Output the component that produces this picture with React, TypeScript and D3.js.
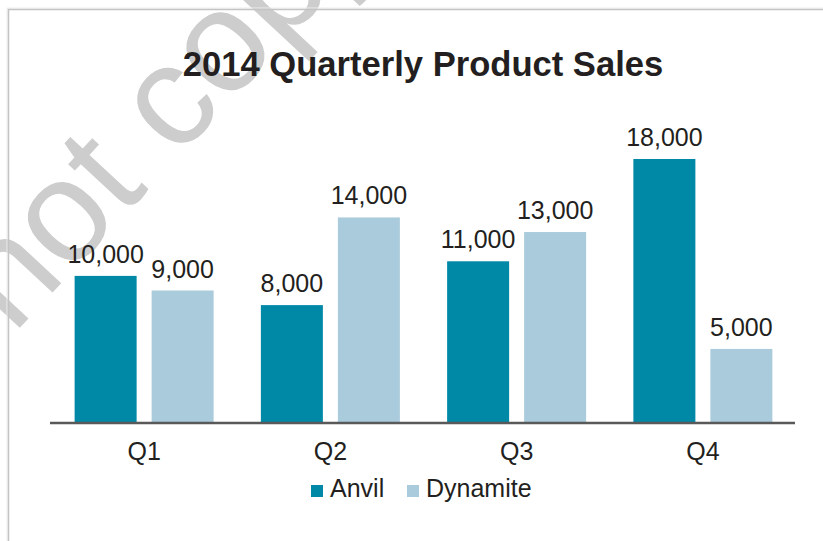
import React from "react";
import * as d3 from "d3";

const quarters = ["Q1", "Q2", "Q3", "Q4"];
const seriesNames = ["Anvil", "Dynamite"];
const anvil = [10000, 8000, 11000, 18000];
const dynamite = [9000, 14000, 13000, 5000];
const colors = ["#0089a7", "#aacbdb"];
const title = "2014 Quarterly Product Sales";
const watermark = "not copy";

const W = 823;
const H = 541;
const FONT = "'Liberation Sans', Arial, Helvetica, sans-serif";
const TEXT = "#231f20";

export default function App() {
  const seriesValues = [anvil, dynamite];
  const x0 = d3.scaleBand<string>().domain(quarters).range([51, 796]).paddingInner(0).paddingOuter(0);
  const step = x0.bandwidth();
  const groupW = 139;
  const x1 = d3
    .scaleBand<string>()
    .domain(seriesNames)
    .range([(step - groupW) / 2, (step + groupW) / 2])
    .paddingInner(15 / 77)
    .paddingOuter(0);
  const y = d3.scaleLinear().domain([0, 18000]).range([422, 159]);
  const fmt = d3.format(",");
  const baseY = y(0);

  return (
    <svg
      width={W}
      height={H}
      viewBox={`0 0 ${W} ${H}`}
      style={{ position: "absolute", left: 0, top: 0, display: "block", background: "#fff" }}
    >
      <rect x={0} y={0} width={W} height={H} fill="#fff" />
      {/* watermark */}
      <text
        transform="translate(13,335) rotate(-47)"
        fontFamily={FONT}
        fontSize={144}
        fill="#cdcdcd"
      >
        {watermark}
      </text>
      {/* frame */}
      <line x1={7} y1={8} x2={W} y2={8} stroke="#ececec" strokeWidth={1} />
      <line x1={7} y1={8} x2={7} y2={H} stroke="#ececec" strokeWidth={1} />
      <line x1={8} y1={9.5} x2={W} y2={9.5} stroke="#c4c4c4" strokeWidth={1.5} />
      <line x1={8.5} y1={9} x2={8.5} y2={H} stroke="#c4c4c4" strokeWidth={1.5} />

      <text
        x={423}
        y={76}
        textAnchor="middle"
        fontFamily={FONT}
        fontWeight="bold"
        fontSize={34.6}
        fill={TEXT}
      >
        {title}
      </text>

      {quarters.map((q, qi) => (
        <g key={q} transform={`translate(${x0(q)},0)`}>
          {seriesNames.map((s, si) => {
            const v = seriesValues[si][qi];
            const bx = x1(s)!;
            return (
              <g key={s}>
                <rect x={bx} y={y(v)} width={x1.bandwidth()} height={baseY - y(v)} fill={colors[si]} />
                <text
                  x={bx + x1.bandwidth() / 2}
                  y={y(v) - 13}
                  textAnchor="middle"
                  fontFamily={FONT}
                  fontSize={25}
                  fill={TEXT}
                >
                  {fmt(v)}
                </text>
              </g>
            );
          })}
          <text
            x={step / 2}
            y={460}
            textAnchor="middle"
            fontFamily={FONT}
            fontSize={25}
            fill={TEXT}
          >
            {q}
          </text>
        </g>
      ))}

      <line x1={50} x2={795} y1={423} y2={423} stroke="#595959" strokeWidth={2.5} />

      {/* legend */}
      {seriesNames.map((s, si) => {
        const lx = si === 0 ? 311 : 407;
        return (
          <g key={s} transform={`translate(${lx},0)`}>
            <rect x={0} y={485} width={12} height={12} fill={colors[si]} />
            <text x={19} y={497} fontFamily={FONT} fontSize={25} fill={TEXT}>
              {s}
            </text>
          </g>
        );
      })}
    </svg>
  );
}
